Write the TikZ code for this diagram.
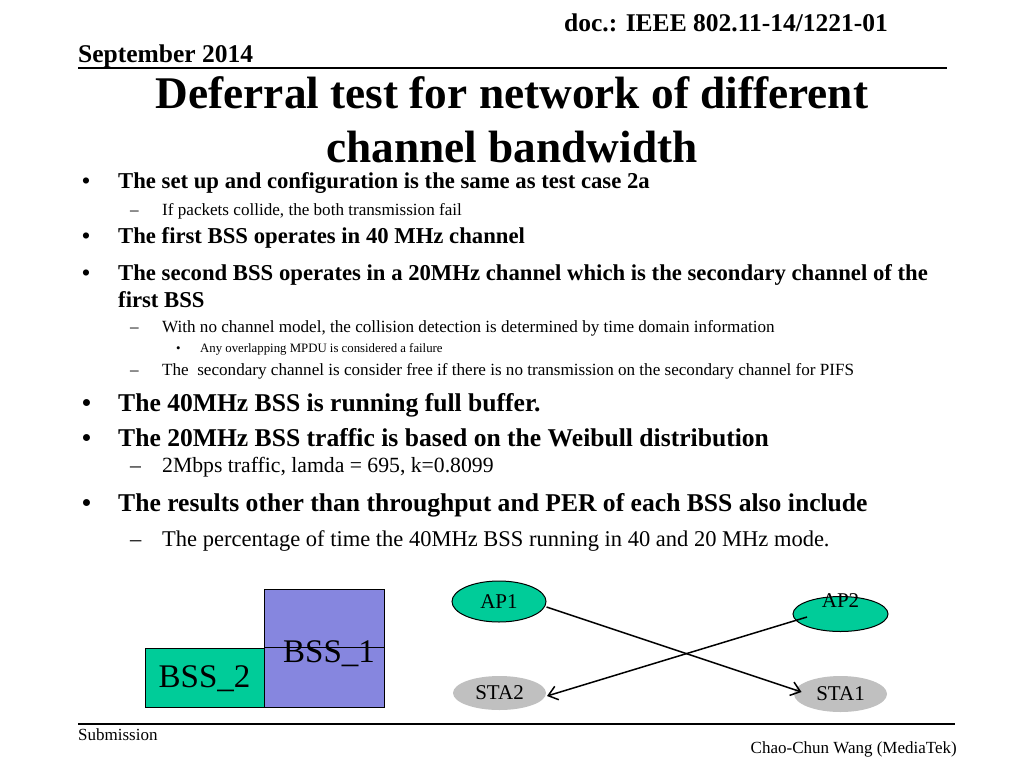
\documentclass[tikz,border=0pt]{standalone}
\usepackage{fontspec}
\setmainfont{Liberation Serif}
\usetikzlibrary{shapes.geometric,arrows.meta,calc}
\definecolor{bssgreen}{RGB}{0,204,153}
\definecolor{bsspurple}{RGB}{134,134,223}
\definecolor{stagray}{RGB}{192,192,192}
\begin{document}
\begin{tikzpicture}[x=1pt,y=-1pt,
  txt/.style={inner sep=0,anchor=base west},
  hdr/.style={txt,font=\fontsize{25.5}{30}\selectfont\bfseries},
  ttl/.style={inner sep=0,anchor=base,font=\fontsize{45.3}{54}\selectfont\bfseries},
  la/.style={txt,font=\fontsize{22.7}{27}\selectfont\bfseries},
  lb/.style={txt,font=\fontsize{17.1}{20}\selectfont},
  lc/.style={txt,font=\fontsize{12.8}{15}\selectfont},
  ld/.style={txt,font=\fontsize{25.6}{30}\selectfont\bfseries},
  le/.style={txt,font=\fontsize{22.5}{26}\selectfont},
  lf/.style={txt,font=\fontsize{21.7}{26}\selectfont},
  ft/.style={inner sep=0,font=\fontsize{17}{20}\selectfont},
  rule/.style={line width=1.6},
  bss/.style={rectangle,draw=black,line width=1,inner sep=0},
  bsstext/.style={inner sep=0,anchor=base,font=\fontsize{33}{40}\selectfont},
  ap/.style={ellipse,draw=black,line width=1,fill=bssgreen,inner sep=0,font=\fontsize{21}{25}\selectfont},
  sta/.style={ellipse,fill=stagray,inner sep=0,font=\fontsize{21}{25}\selectfont},
  arr/.style={line width=1.5,-{Straight Barb[length=9,width=14,line width=1.5]}}
]
\fill[white] (0,0) rectangle (1024,768);
\useasboundingbox (0,0) rectangle (1024,768);

% header
\node[hdr] (doc) at (564,31.7) {doc.: IEEE 802.11-14/1221-01};
\node[hdr] (date) at (78,62.7) {September 2014};
\draw[rule] (78,68) -- (947,68);

% title
\node[ttl] (t1) at (512,108) {Deferral test for network of different};
\node[ttl] (t2) at (512,162) {channel bandwidth};

% bullets
\node[la] (b1) at (82,188) {•};
\node[la] (s1) at (118,188) {The set up and configuration is the same as test case 2a};
\node[lb] (d1) at (130,215) {–};
\node[lb] (s2) at (162,215) {If packets collide, the both transmission fail};
\node[la] (b2) at (82,243) {•};
\node[la] (s3) at (118,243) {The first BSS operates in 40 MHz channel};
\node[la] (b3) at (82,280) {•};
\node[la] (s4) at (118,280) {The second BSS operates in a 20MHz channel which is the secondary channel of the};
\node[la] (s4b) at (118,307) {first BSS};
\node[lb] (d2) at (130,332.7) {–};
\node[lb] (s5) at (162,332.7) {With no channel model, the collision detection is determined by time domain information};
\node[lc] (b4) at (176,352.7) {•};
\node[lc] (s6) at (200,352.7) {Any overlapping MPDU is considered a failure};
\node[lb] (d3) at (130,375) {–};
\node[lb] (s7) at (162,375) {The\ \ secondary channel is consider free if there is no transmission on the secondary channel for PIFS};
\node[ld] (b5) at (82,411) {•};
\node[ld] (s8) at (118,411) {The 40MHz BSS is running full buffer.};
\node[ld] (b6) at (82,446) {•};
\node[ld] (s9) at (118,446) {The 20MHz BSS traffic is based on the Weibull distribution};
\node[lf] (d4) at (130,472) {–};
\node[lf] (s10) at (162,472) {2Mbps traffic, lamda = 695, k=0.8099};
\node[ld] (b7) at (82,511) {•};
\node[ld] (s11) at (118,511) {The results other than throughput and PER of each BSS also include};
\node[le] (d5) at (130,546) {–};
\node[le] (s12) at (162,546) {The percentage of time the 40MHz BSS running in 40 and 20 MHz mode.};

% BSS blocks
\node[bss,fill=bsspurple,minimum width=120,minimum height=118] (bss1) at (324,648) {};
\node[bsstext] (bss1t) at (329,662) {BSS\_1};
\node[bss,fill=bssgreen,minimum width=119,minimum height=59] (bss2) at (204.5,677.5) {};
\node[bsstext] (bss2t) at (204.5,687) {BSS\_2};
\draw[line width=1] (bss2.north east) -- (bss2.north east -| bss1.east);

% stations
\node[ap,minimum width=94,minimum height=41] (ap1) at (499,601.5) {AP1};
\node[ap,minimum width=95,minimum height=35] (ap2) at (840.5,614) {};
\node[inner sep=0,font=\fontsize{21}{25}\selectfont] (ap2t) at (840.5,601) {AP2};
\node[sta,minimum width=93,minimum height=34] (sta2) at (499.5,693) {STA2};
\node[sta,minimum width=93,minimum height=36] (sta1) at (840.5,694) {STA1};
\draw[arr] ($(ap1.center)+(47.5,5.5)$) -- ($(sta1.center)+(-39,-2)$);
\draw[arr] ($(ap2.center)+(-33.5,3)$) -- ($(sta2.center)+(47.5,3)$);

% footer
\draw[rule] (78,724) -- (955,724);
\node[ft,anchor=base west] (sub) at (78,740) {Submission};
\node[ft,anchor=base east] (auth) at (957,753) {Chao-Chun Wang (MediaTek)};
\end{tikzpicture}
\end{document}
